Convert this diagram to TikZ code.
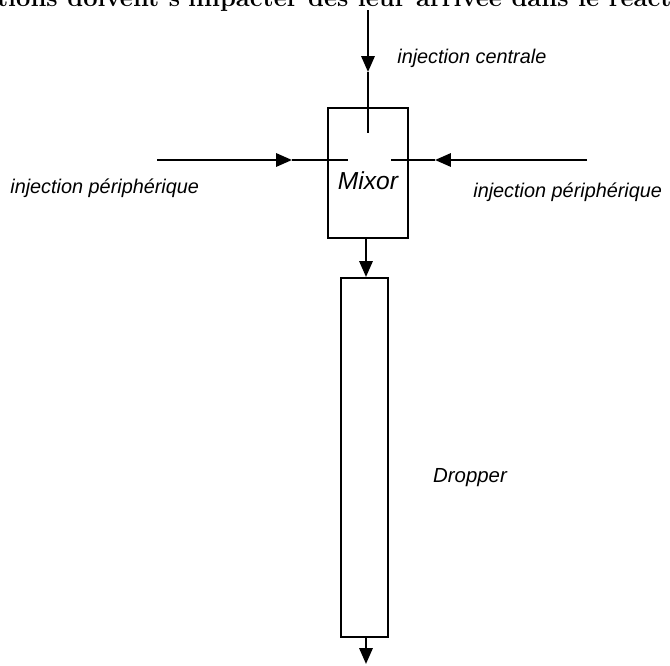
\documentclass[tikz,border=0pt]{standalone}
\usepackage{fontspec}
\newfontfamily\arialfont{Liberation Sans}
\usetikzlibrary{arrows.meta}
\tikzstyle{box}=[rectangle,draw=black,line width=1.2pt,inner sep=0pt]
\tikzstyle{lbl}=[font=\arialfont\itshape\fontsize{11.3}{13}\selectfont,inner sep=0pt]
\tikzstyle{flow}=[line width=1.3pt,-{Triangle[length=9pt,width=7.5pt]}]
\tikzstyle{pipe}=[line width=1.3pt]
\tikzstyle{none}=[]

\begin{document}
\begin{tikzpicture}[x=0.02cm,y=-0.02cm]
            \useasboundingbox (0,0) rectangle (670,666);
            \clip (0,0) rectangle (670,666);
            \node [font=\bfseries\fontsize{14.5}{16}\selectfont,anchor=base west,inner sep=0pt] (0) at (67,7) {\llap{injections }doivent s'impacter dès leur arrivée dans le réacteur};
            \node [style=box,minimum width=1.6cm,minimum height=2.6cm] (1) at (368,173) {};
            \node [style=box,minimum width=0.94cm,minimum height=7.18cm] (2) at (364.5,457.5) {};
            \node [style=lbl,font=\arialfont\itshape\fontsize{14}{16}\selectfont] (3) at (368,181) {Mixor};
            \node [style=lbl,font=\arialfont\itshape\fontsize{11.6}{13}\selectfont] (4) at (470,478) {Dropper};
            \node [style=lbl,anchor=west] (5) at (397,58) {injection centrale};
            \node [style=lbl,anchor=west] (6) at (10,188) {injection périphérique};
            \node [style=lbl,anchor=west] (7) at (473,192) {injection périphérique};
            \coordinate (8) at (368,10);
            \coordinate (9) at (368,72);
            \coordinate (10) at (368,133);
            \coordinate (11) at (157,160);
            \coordinate (12) at (292,160);
            \coordinate (13) at (348,160);
            \coordinate (14) at (587,160);
            \coordinate (15) at (435,160);
            \coordinate (16) at (391,160);
            \coordinate (17) at (366,664);
            \draw [style=flow] (8) to (9);
            \draw [style=pipe] (9) to (10);
            \draw [style=flow] (11) to (12);
            \draw [style=pipe] (12) to (13);
            \draw [style=flow] (14) to (15);
            \draw [style=pipe] (15) to (16);
            \draw [style=flow] (1.south -| 17) to (2.north -| 17);
            \draw [style=flow] (2.south -| 17) to (17);
    \end{tikzpicture}
\end{document}
